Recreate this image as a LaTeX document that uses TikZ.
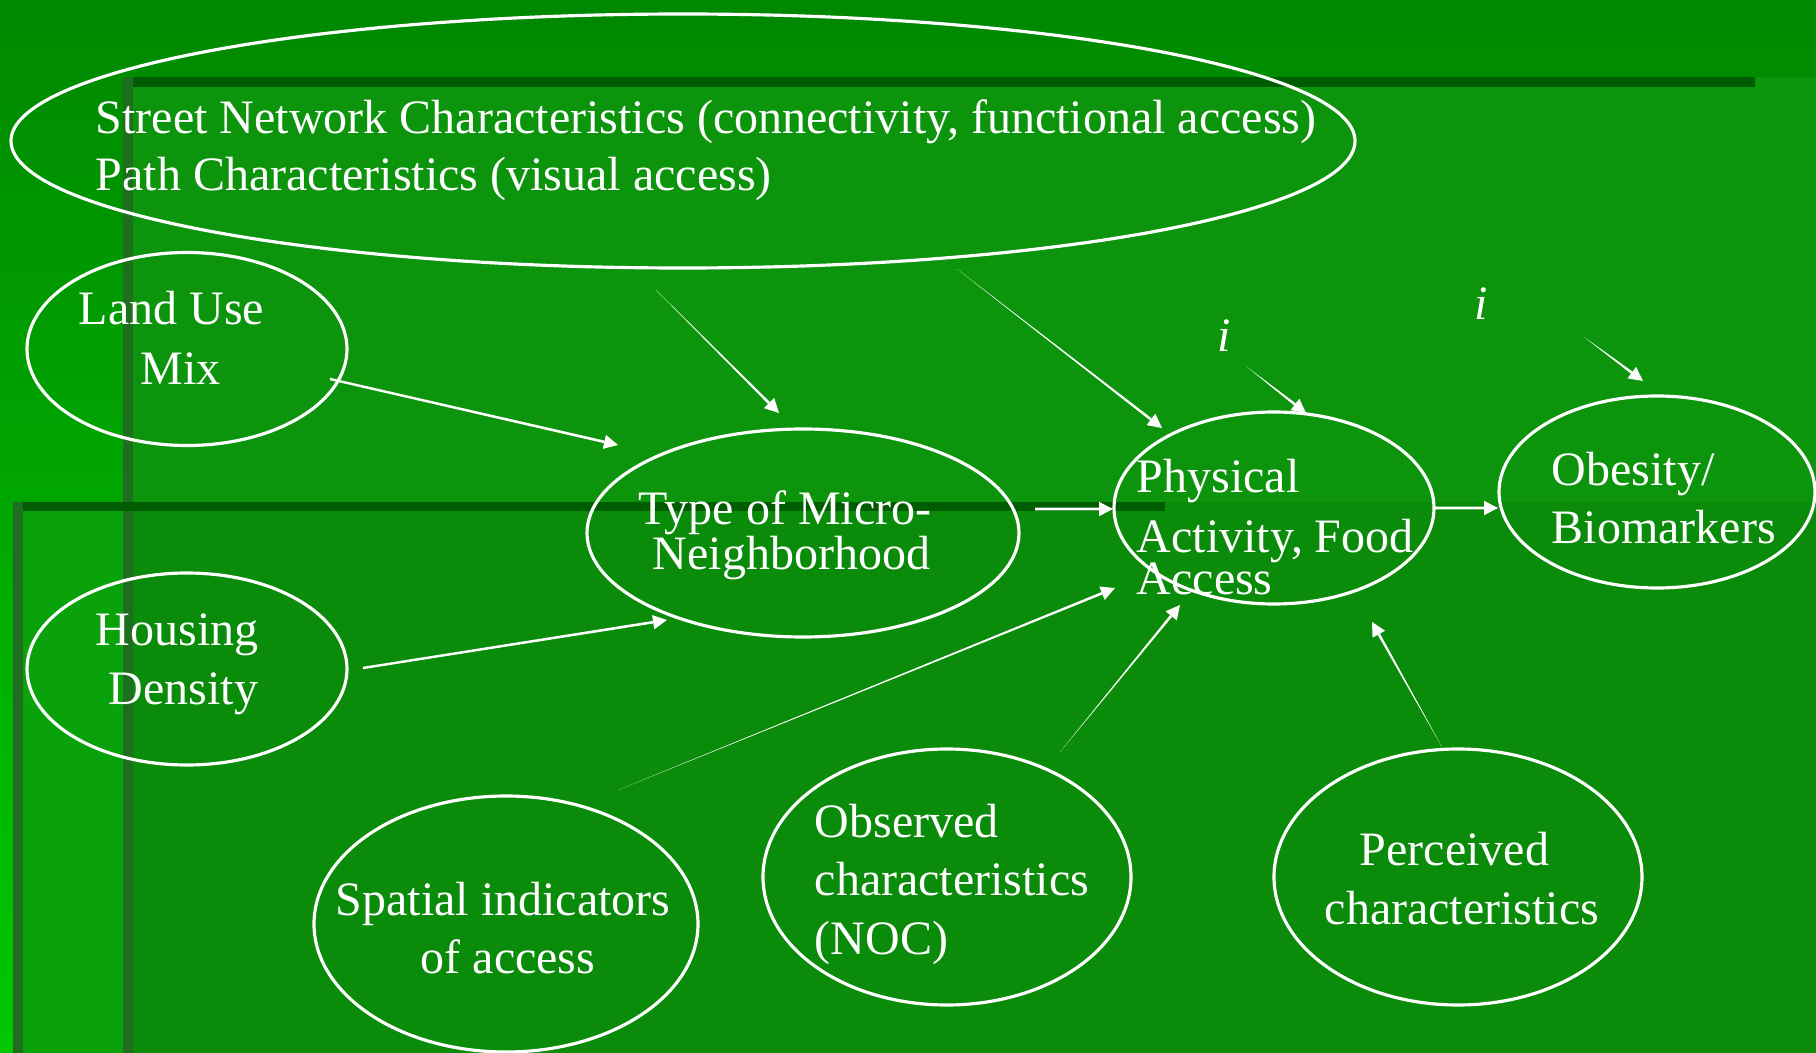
\documentclass[tikz,border=0pt]{standalone}
\usepackage{fontspec}
\setmainfont{Liberation Serif}
\usetikzlibrary{calc,shapes.geometric}
\definecolor{bgtop}{HTML}{008800}
\definecolor{bgbot}{HTML}{00C800}
\definecolor{rectA}{HTML}{0C950C}
\definecolor{rectB}{HTML}{0AA20A}
\definecolor{rectAB}{HTML}{0A8B0A}
\definecolor{edgeD}{HTML}{005C00}
\definecolor{edgeL}{HTML}{1F6E1F}
% tapered arrow: [start half width]{start}{end}
\newcommand\myarrow[3][0pt]{%
  \path (#2) coordinate (tS) (#3) coordinate (tE) ($(#3)!1.4mm!(#2)$) coordinate (tB);
  \fill[white] ($(tS)!#1!90:(tB)$) -- ($(tS)!#1!-90:(tB)$) -- ($(tB)!0.13mm!90:(tS)$) -- ($(tB)!0.13mm!-90:(tS)$) -- cycle;
  \fill[white] (tE) -- ($(tB)!0.72mm!90:(tS)$) -- ($(tB)!0.72mm!-90:(tS)$) -- cycle;
}
\begin{document}
\begin{tikzpicture}[x=0.1mm,y=-0.1mm,
  ell/.style={draw=white, line width=0.9pt, ellipse, inner sep=0pt},
  txt/.style={text=white, anchor=base west, inner sep=0pt, font=\fontsize{13.66}{16}\selectfont},
  itxt/.style={text=white, anchor=base, inner sep=0pt, font=\fontsize{13.66}{16}\selectfont\itshape}]
\useasboundingbox (0,0) rectangle (1816,1053);
% background
\shade[top color=bgtop, bottom color=bgbot] (0,0) rectangle (1816,1053);
\fill[rectA] (123,77) rectangle (1816,1053);
\fill[rectB] (13,502) rectangle (133,1053);
\fill[rectAB] (133,502) rectangle (1816,1053);
\fill[edgeD] (123,77) rectangle (1755,87);
\fill[edgeL] (123,77) rectangle (133,1053);
\fill[edgeD] (13,502) rectangle (1165,511);
\fill[edgeL] (13,502) rectangle (23,1053);

% ellipses
\node[ell, minimum width=134.4mm, minimum height=25.4mm] (street) at (683,141) {};
\node[ell, minimum width=32mm, minimum height=19.3mm] (land) at (187,349) {};
\node[ell, minimum width=32mm, minimum height=19.2mm] (house) at (187,669) {};
\node[ell, minimum width=43.2mm, minimum height=20.8mm] (type) at (803,533) {};
\node[ell, minimum width=32mm, minimum height=19.2mm] (phys) at (1274,508) {};
\node[ell, minimum width=31.6mm, minimum height=19.2mm] (obes) at (1657,492) {};
\node[ell, minimum width=38.4mm, minimum height=25.6mm] (spat) at (506,924) {};
\node[ell, minimum width=36.8mm, minimum height=25.6mm] (obs) at (947,877) {};
\node[ell, minimum width=36.8mm, minimum height=25.6mm] (perc) at (1458,877) {};

% texts
\node[txt] (t1) at (95,134) {Street Network Characteristics (connectivity, functional access)};
\node[txt] (t2) at (95,191) {Path Characteristics (visual access)};
\node[txt] (t3) at (78,325) {Land Use};
\node[txt] (t4) at (140,385) {Mix};
\node[txt] (t5) at (95,646) {Housing};
\node[txt] (t6) at (108,704) {Density};
\node[txt] (t7) at (638,525) {Type of Micro-};
\node[txt] (t8) at (652,569) {Neighborhood};
\node[txt] (t9) at (1136,492) {Physical};
\node[txt] (t10) at (1136,552) {Activity, Food};
\node[txt] (t11) at (1136,595) {Access};
\node[txt] (t12) at (1551,485) {Obesity/};
\node[txt] (t13) at (1551,543) {Biomarkers};
\node[txt] (t14) at (335,915) {Spatial indicators};
\node[txt] (t15) at (420,973) {of access};
\node[txt] (t16) at (814,837) {Observed};
\node[txt] (t17) at (814,895) {characteristics};
\node[txt] (t18) at (814,954) {(NOC)};
\node[txt] (t19) at (1359,865) {Perceived};
\node[txt] (t20) at (1324,924) {characteristics};
\node[itxt] (i1) at (1224,352) {i};
\node[itxt] (i2) at (1481,320) {i};

% connector end points
\coordinate (a1s) at (330,379);  \coordinate (a1e) at (618,445);
\coordinate (a2s) at (363,668);  \coordinate (a2e) at (667,620);
\coordinate (a3s) at (656,290);  \coordinate (a3e) at (779,413);
\coordinate (a4s) at (957,269);  \coordinate (a4e) at (1162,428);
\coordinate (a5s) at (1035,509); \coordinate (a5e) at (1113,509);
\coordinate (a6s) at (1435,508); \coordinate (a6e) at (1498,508);
\coordinate (a7s) at (1247,367); \coordinate (a7e) at (1306,413);
\coordinate (a8s) at (1584,337); \coordinate (a8e) at (1643,381);
\coordinate (a9s) at (618,790);  \coordinate (a9e) at (1115,588);
\coordinate (a10s) at (1060,752); \coordinate (a10e) at (1180,605);
\coordinate (a11s) at (1442,747); \coordinate (a11e) at (1372,622);

% connectors
\myarrow[0.12mm]{a1s}{a1e}
\myarrow[0.12mm]{a2s}{a2e}
\myarrow{a3s}{a3e}
\myarrow{a4s}{a4e}
\myarrow[0.14mm]{a5s}{a5e}
\myarrow[0.14mm]{a6s}{a6e}
\myarrow{a7s}{a7e}
\myarrow{a8s}{a8e}
\myarrow{a9s}{a9e}
\myarrow{a10s}{a10e}
\myarrow{a11s}{a11e}
\end{tikzpicture}
\end{document}
